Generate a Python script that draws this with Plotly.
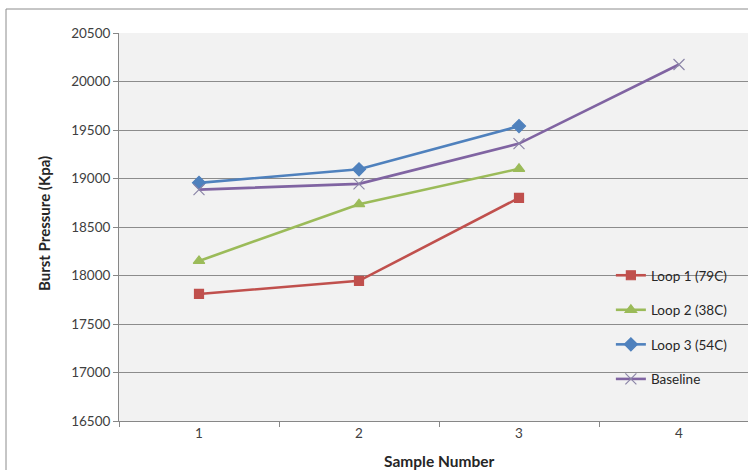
import plotly.graph_objects as go

samples = ["1", "2", "3", "4"]
loop1 = [17810, 17945, 18800]
loop2 = [18150, 18735, 19100]
loop3 = [18955, 19095, 19540]
baseline = [18885, 18945, 19360, 20175]

series = [
    ("Loop 1 (79C)", loop1, "#C0504D", "square", 9, "#C0504D"),
    ("Loop 2 (38C)", loop2, "#9BBB59", "triangle-up", 10, "#9BBB59"),
    ("Loop 3 (54C)", loop3, "#4F81BD", "diamond", 10, "#4F81BD"),
    ("Baseline", baseline, "#8064A2", "x-thin", 11, "#8C86A8"),
]

FONT = "Lato, 'Open Sans', sans-serif"
fig = go.Figure()
for i, (name, vals, col, sym, size, mcol) in enumerate(series):
    fig.add_trace(go.Scatter(
        x=samples[:len(vals)], y=vals, name=name, mode="lines+markers",
        line=dict(color=col, width=2.6),
        marker=dict(symbol=sym, size=size, color=mcol,
                    line=dict(color=mcol, width=1.2)),
        legendgroup=str(i),
    ))

W, H = 748, 470
L, T, B = 119, 33, 49
PH = H - T - B
fig.update_layout(
    width=W, height=H,
    margin=dict(l=L, r=0, t=T, b=B),
    paper_bgcolor="white", plot_bgcolor="#F2F2F2",
    font=dict(family=FONT, size=13, color="#404040"),
    showlegend=True,
    legend=dict(x=0.782, y=0.415, xanchor="left", yanchor="top",
                bgcolor="rgba(0,0,0,0)", tracegroupgap=14,
                font=dict(family=FONT, size=13.5, color="#262626")),
    xaxis=dict(type="category", categoryorder="array", categoryarray=samples,
               range=[-0.5, -0.5 + (W - L) / 160.0],
               showgrid=False, showline=True, linecolor="#878787", linewidth=1,
               ticks="outside", tickson="boundaries", ticklen=5, tickcolor="#878787",
               tickfont=dict(size=13.5, color="#404040"), zeroline=False),
    yaxis=dict(range=[16500, 20500], dtick=500, tick0=16500,
               showgrid=True, gridcolor="#8C8C8C", gridwidth=1,
               showline=True, linecolor="#878787", linewidth=1,
               ticks="outside", ticklen=5, tickcolor="#878787",
               tickfont=dict(size=13.5, color="#404040"), zeroline=False,
               tickformat="d"),
)

fig.add_annotation(text="<b>Burst Pressure (Kpa)</b>", xref="paper", yref="paper",
                   x=(44 - L) / (W - L), y=(421 - 224) / PH, textangle=-90, showarrow=False,
                   xanchor="center", yanchor="middle",
                   font=dict(family=FONT, size=15, color="#262626"))
fig.add_annotation(text="<b>Sample Number</b>", xref="paper", yref="paper",
                   x=(439 - L) / (W - L), y=-(461 - 421) / PH,
                   showarrow=False, xanchor="center", yanchor="middle",
                   font=dict(family=FONT, size=15.5, color="#262626"))

# chart-area border (left and top edges visible)
ytop = (421 - 9) / PH
xleft = (6 - L) / (W - L)
fig.add_shape(type="line", xref="paper", yref="paper",
              x0=xleft, x1=1.01, y0=ytop, y1=ytop,
              line=dict(color="#8C8C8C", width=1), layer="above")
fig.add_shape(type="line", xref="paper", yref="paper",
              x0=xleft, x1=xleft, y0=ytop, y1=-0.2,
              line=dict(color="#8C8C8C", width=1), layer="above")

fig.write_html("out.html", config={"displayModeBar": False},
               post_script="document.body.style.margin='0';document.body.style.padding='0';")
